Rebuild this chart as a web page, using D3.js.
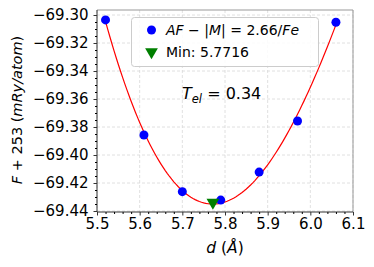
<!DOCTYPE html>
<html>
<head>
<meta charset="utf-8">
<style>
  body { margin: 0; background: #fff; }
  svg { display: block; }
  text { font-family: "DejaVu Sans", sans-serif; fill: #000; }
  .grid line { stroke: #d8d8d8; stroke-dasharray: 3,2; stroke-width: 0.8; }
</style>
<script src="https://d3js.org/d3.v7.min.js"></script>
</head>
<body>
<div id="chart"></div>
<script>
// data
var dValues = [5.52, 5.61, 5.70, 5.79, 5.88, 5.97, 6.06];
var fValues = [-69.3035, -69.3857, -69.4262, -69.4322, -69.4122, -69.3757, -69.3052];
var minPoint = [5.7716, -69.4345];
var xTicks = [5.5, 5.6, 5.7, 5.8, 5.9, 6.0, 6.1];
var yTicks = [-69.30, -69.32, -69.34, -69.36, -69.38, -69.40, -69.42, -69.44];

var W = 374, H = 267;
var mLeft = 97, mRight = 353, mTop = 10, mBottom = 212;

var svg = d3.select("#chart").append("svg")
    .attr("width", W)
    .attr("height", H);

var x = d3.scaleLinear().domain([5.5, 6.1]).range([mLeft, mRight]);
var y = d3.scaleLinear().domain([-69.44, -69.30]).range([211, 15]);

// grid
var grid = svg.append("g").attr("class", "grid");
grid.selectAll(".gx").data(xTicks).enter().append("line")
    .attr("x1", d => x(d)).attr("x2", d => x(d))
    .attr("y1", mTop).attr("y2", mBottom);
grid.selectAll(".gy").data(yTicks).enter().append("line")
    .attr("x1", mLeft).attr("x2", mRight)
    .attr("y1", d => y(d)).attr("y2", d => y(d));

// cubic least squares fit of the points
function polyfit(xs, ys, deg) {
  var n = deg + 1, A = [], b = [];
  for (var i = 0; i < n; i++) {
    A.push(new Array(n).fill(0)); b.push(0);
  }
  xs.forEach(function (xv, k) {
    for (var i = 0; i < n; i++) {
      for (var j = 0; j < n; j++) A[i][j] += Math.pow(xv, i + j);
      b[i] += ys[k] * Math.pow(xv, i);
    }
  });
  for (var c = 0; c < n; c++) {
    var p = c;
    for (var r = c + 1; r < n; r++) if (Math.abs(A[r][c]) > Math.abs(A[p][c])) p = r;
    var t = A[c]; A[c] = A[p]; A[p] = t; t = b[c]; b[c] = b[p]; b[p] = t;
    for (var r = c + 1; r < n; r++) {
      var f = A[r][c] / A[c][c];
      for (var j = c; j < n; j++) A[r][j] -= f * A[c][j];
      b[r] -= f * b[c];
    }
  }
  var coef = new Array(n).fill(0);
  for (var i = n - 1; i >= 0; i--) {
    var s = b[i];
    for (var j = i + 1; j < n; j++) s -= A[i][j] * coef[j];
    coef[i] = s / A[i][i];
  }
  return coef;
}
var x0 = 5.79, y0 = -69.4;
var coef = polyfit(dValues.map(v => v - x0), fValues.map(v => v - y0), 3);
function fit(v) {
  var u = v - x0;
  return y0 + coef[0] + coef[1] * u + coef[2] * u * u + coef[3] * u * u * u;
}
var fitX = d3.range(dValues[0], dValues[dValues.length - 1] + 0.001, 0.005);

svg.append("path")
    .datum(fitX)
    .attr("fill", "none")
    .attr("stroke", "#ff0000")
    .attr("stroke-width", 1.2)
    .attr("d", d3.line().x(d => x(d)).y(d => y(fit(d))));

// points
svg.selectAll(".pt").data(dValues).enter().append("circle")
    .attr("cx", d => x(d))
    .attr("cy", (d, i) => y(fValues[i]))
    .attr("r", 4.5)
    .attr("fill", "#0000ff");

var tri = d3.symbol().type(d3.symbolTriangle).size(70);
svg.append("path")
    .attr("d", tri())
    .attr("fill", "#007f00")
    .attr("transform", "translate(" + x(minPoint[0]) + "," + (y(minPoint[1]) - 1) + ") rotate(180)");

// frame
svg.append("line").attr("x1", mLeft).attr("x2", mRight).attr("y1", mTop).attr("y2", mTop).attr("stroke", "#999");
svg.append("line").attr("x1", mRight).attr("x2", mRight).attr("y1", mTop).attr("y2", mBottom).attr("stroke", "#999");

// axes
var xAxis = d3.axisBottom(x).tickValues(xTicks).tickFormat(d3.format(".1f")).tickSize(3.5).tickPadding(3);
var gx = svg.append("g").attr("transform", "translate(0," + mBottom + ")").call(xAxis);
var yAxis = d3.axisLeft(y).tickValues(yTicks).tickFormat(d => d3.format(".2f")(d).replace("-", "\u2212")).tickSize(3.5).tickPadding(5);
var gy = svg.append("g").attr("transform", "translate(" + mLeft + ",0)").call(yAxis);

svg.append("g").attr("transform", "translate(0," + mBottom + ")")
    .call(d3.axisBottom(x).tickValues(d3.range(5.52, 6.1, 0.02).filter(v => Math.abs(v * 10 - Math.round(v * 10)) > 0.01)).tickSize(2).tickFormat(""))
    .select(".domain").remove();
svg.append("g").attr("transform", "translate(" + mLeft + ",0)")
    .call(d3.axisLeft(y).tickValues(d3.range(-69.44, -69.296, 0.005).filter(v => Math.abs(v * 50 - Math.round(v * 50)) > 0.01)).tickSize(2).tickFormat(""))
    .select(".domain").remove();

[gx, gy].forEach(function (g) {
  g.select(".domain").attr("stroke", "#333");
  g.selectAll(".tick line").attr("stroke", "#333");
  g.selectAll("text").style("font-size", "15px").attr("fill", "#000");
});
gx.select(".domain").attr("d", "M" + mLeft + ",0H" + mRight);
gy.select(".domain").attr("d", "M0," + mTop + "V" + mBottom);

// axis labels
svg.append("text")
    .attr("x", (mLeft + mRight) / 2)
    .attr("y", 253)
    .attr("text-anchor", "middle")
    .style("font-size", "15.5px")
    .html('<tspan font-style="italic">d</tspan> (<tspan font-style="italic">Å</tspan>)');

svg.append("text")
    .attr("transform", "translate(22,110) rotate(-90)")
    .attr("text-anchor", "middle")
    .style("font-size", "14.5px")
    .html('<tspan font-style="italic">F</tspan> + 253 (<tspan font-style="italic">mRy/atom</tspan>)');

// T_el annotation
var tel = svg.append("text").attr("x", 182).attr("y", 99).style("font-size", "16px");
tel.append("tspan").attr("font-style", "italic").text("T");
tel.append("tspan").attr("font-style", "italic").attr("dy", 4).style("font-size", "11.5px").text("el");
tel.append("tspan").attr("dy", -4).text(" = 0.34");

// legend
var lg = svg.append("g");
lg.append("rect")
    .attr("x", 131.5).attr("y", 17.5).attr("width", 187).attr("height", 49).attr("rx", 3)
    .attr("fill", "#fff").attr("fill-opacity", 0.85).attr("stroke", "#ccc");
lg.append("circle").attr("cx", 151.5).attr("cy", 30).attr("r", 4.5).attr("fill", "#0000ff");
lg.append("path").attr("d", tri()).attr("fill", "#007f00")
    .attr("transform", "translate(151.5,52) rotate(180)");
lg.append("text").attr("x", 166).attr("y", 35).style("font-size", "14px")
    .html('<tspan font-style="italic">AF</tspan> − |<tspan font-style="italic">M</tspan>| = 2.66/<tspan font-style="italic">Fe</tspan>');
lg.append("text").attr("x", 166).attr("y", 57).style("font-size", "14px")
    .text("Min: 5.7716");
</script>
</body>
</html>
